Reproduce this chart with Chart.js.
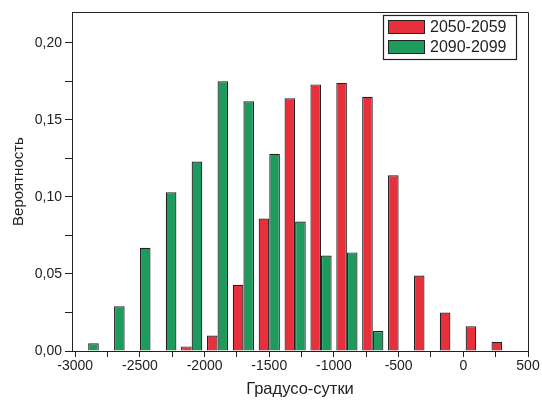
<!DOCTYPE html>
<html>
<head>
<meta charset="utf-8">
<script src="https://cdn.jsdelivr.net/npm/chart.js@4.4.1/dist/chart.umd.min.js"></script>
<style>
  html, body { margin: 0; padding: 0; background: #fff; }
  #wrap { width: 542px; height: 407px; }
</style>
</head>
<body>
<div id="wrap"><canvas id="c" width="542" height="407"></canvas></div>
<script>
// Bin centres (degree-days)
const bins = [-2900, -2700, -2500, -2300, -2100, -1900, -1700, -1500, -1300, -1100, -900, -700, -500, -300, -100, 100, 300];
// Probabilities per period
const series2050 = [null, null, null, null, 0.003, 0.010, 0.043, 0.086, 0.164, 0.173, 0.174, 0.165, 0.114, 0.049, 0.025, 0.016, 0.006];
const series2090 = [0.005, 0.029, 0.067, 0.103, 0.123, 0.175, 0.162, 0.128, 0.084, 0.062, 0.064, 0.013, null, null, null, null, null];
const seriesLabels = ['2050-2059', '2090-2099'];
const xTickLabels = [-3000, -2500, -2000, -1500, -1000, -500, 0, 500];
const xMinorTicks = [-2750, -2250, -1750, -1250, -750, -250, 250];
const yTickValues = [0, 0.05, 0.10, 0.15, 0.20];
const yTickLabels = ['0,00', '0,05', '0,10', '0,15', '0,20'];
const yMinorTicks = [0.025, 0.075, 0.125, 0.175];
const xTitle = 'Градусо-сутки';
const yTitle = 'Вероятность';

const RED = '#e8303c';
const GREEN = '#1d9b5c';
const INK = '#222';
const FONT = "'Liberation Sans', Arial, sans-serif";

const toPts = (arr) => bins.map((b, i) => ({ x: b, y: arr[i] }));

const frameAndLegend = {
  id: 'frameAndLegend',
  afterDraw(chart) {
    const ctx = chart.ctx;
    const a = chart.chartArea;
    ctx.save();
    ctx.strokeStyle = INK;
    ctx.lineWidth = 1;
    ctx.beginPath();
    ctx.moveTo(a.left, a.top + 0.5);
    ctx.lineTo(a.right + 0.5, a.top + 0.5);
    ctx.lineTo(a.right + 0.5, a.bottom);
    ctx.stroke();

    // legend box
    const bx = 383.5, by = 15.5, bw = 133, bh = 44;
    ctx.lineWidth = 1.2;
    ctx.strokeRect(bx, by, bw, bh);
    ctx.font = '16px ' + FONT;
    ctx.textBaseline = 'middle';
    ctx.textAlign = 'left';
    chart.data.datasets.forEach((ds, i) => {
      const sy = 20 + i * 20;
      ctx.fillStyle = ds.backgroundColor;
      ctx.fillRect(388, sy, 37, 14);
      ctx.strokeStyle = INK;
      ctx.lineWidth = 1;
      ctx.strokeRect(388.5, sy + 0.5, 36, 13);
      ctx.fillStyle = INK;
      ctx.fillText(ds.label, 430, sy + 7.5);
    });
    ctx.restore();
  }
};

new Chart(document.getElementById('c'), {
  type: 'bar',
  data: {
    datasets: [
      { label: seriesLabels[0], data: toPts(series2050), backgroundColor: RED, borderColor: INK, borderWidth: 1.2 },
      { label: seriesLabels[1], data: toPts(series2090), backgroundColor: GREEN, borderColor: INK, borderWidth: 1.2 }
    ]
  },
  options: {
    responsive: false,
    animation: false,
    devicePixelRatio: 1,
    categoryPercentage: 0.82,
    barPercentage: 1.0,
    layout: { padding: { top: 12, right: 14, left: 0, bottom: 0 } },
    plugins: { legend: { display: false }, tooltip: { enabled: false } },
    scales: {
      x: {
        type: 'linear',
        offset: false,
        min: -3025,
        max: 500,
        afterFit(s) { s.height = 56; },
        afterBuildTicks(s) {
          s.ticks = xTickLabels.concat(xMinorTicks).sort((a, b) => a - b).map(v => ({ value: v }));
        },
        ticks: {
          autoSkip: false,
          maxRotation: 0,
          padding: 1,
          color: INK,
          font: { family: FONT, size: 14 },
          callback(v) { return xTickLabels.includes(Math.round(v)) ? String(Math.round(v)) : ''; }
        },
        grid: { offset: false, drawOnChartArea: false, drawTicks: true, tickLength: 6, color: INK },
        border: { display: true, color: INK, width: 1 },
        title: { display: true, text: xTitle, color: INK, font: { family: FONT, size: 16.5 }, padding: { top: 0, bottom: 8 } }
      },
      y: {
        min: 0,
        max: 0.22,
        afterFit(s) { s.width = 72; },
        afterBuildTicks(s) {
          s.ticks = yTickValues.concat(yMinorTicks).sort((a, b) => a - b).map(v => ({ value: v }));
        },
        ticks: {
          autoSkip: false,
          padding: 3,
          color: INK,
          font: { family: FONT, size: 14 },
          callback(v) {
            const k = yTickValues.findIndex(t => Math.abs(t - v) < 1e-9);
            return k >= 0 ? yTickLabels[k] : '';
          }
        },
        grid: { drawOnChartArea: false, drawTicks: true, tickLength: 7, color: INK },
        border: { display: true, color: INK, width: 1 },
        title: { display: true, text: yTitle, color: INK, font: { family: FONT, size: 15 }, padding: { top: 10, bottom: 0 } }
      }
    }
  },
  plugins: [frameAndLegend]
});
</script>
</body>
</html>
